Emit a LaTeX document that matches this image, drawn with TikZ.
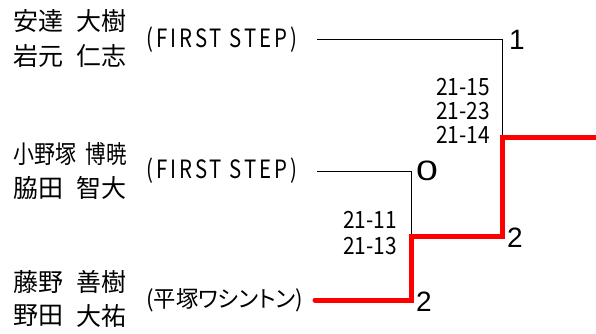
\documentclass[tikz,border=0pt]{standalone}
\usepackage{fontspec}
\newfontfamily\jp{Noto Sans CJK JP}
\newfontfamily\jpls[LetterSpace=15]{Noto Sans CJK JP}
\newfontfamily\jpp[RawFeature={+palt}]{Noto Sans CJK JP}
\newfontfamily\arial{Liberation Sans}
\begin{document}
\begin{tikzpicture}[x=1pt,y=-1pt,
  nm/.style={inner sep=0pt, font=\jp\fontsize{25}{25}\selectfont},
  club/.style={inner sep=0pt, anchor=west, font=\jpls\fontsize{24}{24}\selectfont},
  clubjp/.style={inner sep=0pt, anchor=west, font=\jpp\fontsize{23}{23}\selectfont},
  score/.style={inner sep=0pt, anchor=east, align=right},
  big/.style={inner sep=0pt, anchor=west, font=\arial\fontsize{28}{28}\selectfont},
  thinline/.style={draw=black, line width=1pt},
  win/.style={draw=red, line width=5pt, line join=miter, line cap=round}]
\useasboundingbox (0,0) rectangle (596,334);
% names
\node[nm,anchor=west] (n1a) at (13,21) {安達};
\node[nm,anchor=east] (n1b) at (127,21) {大樹};
\node[nm,anchor=west] (n2a) at (13,56) {岩元};
\node[nm,anchor=east] (n2b) at (127,56) {仁志};
\node[nm,anchor=west] (n3a) at (13,154) {\scalebox{0.84}[1]{小野塚}};
\node[nm,anchor=east] (n3b) at (127,154) {\scalebox{0.82}[1]{博暁}};
\node[nm,anchor=west] (n4a) at (13,188) {脇田};
\node[nm,anchor=east] (n4b) at (127,188) {智大};
\node[nm,anchor=west] (n5a) at (13,282) {藤野};
\node[nm,anchor=east] (n5b) at (127,282) {善樹};
\node[nm,anchor=west] (n6a) at (13,316) {野田};
\node[nm,anchor=east] (n6b) at (127,316) {大祐};
% clubs
\node[club] (c1) at (146,40) {\scalebox{0.85}[1.05]{(FIRST STEP)}};
\node[club] (c2) at (146,171) {\scalebox{0.85}[1.05]{(FIRST STEP)}};
\node[clubjp] (c3) at (146,300) {\scalebox{0.97}[1]{(平塚ワシントン)}};
% connector points
\coordinate (s1) at (317,40);
\coordinate (s2) at (317,171);
\coordinate (s3) at (315,300);
\coordinate (k1) at (502,40);
\coordinate (k2) at (411,171);
\coordinate (m2) at (411,236);
\coordinate (m3) at (411,300);
\coordinate (j1) at (502,137);
\coordinate (j2) at (502,236);
\coordinate (fin) at (596,137);
% lines
\draw[thinline] (s1) -- (k1) -- (j1);
\draw[thinline] (s2) -- (k2) -- (m2);
\draw[win] (s3) -- (m3) -- (m2) -- (j2) -- (j1) -- (fin);
% scores
\node[score, font=\jp\fontsize{22}{22.5}\selectfont] (sc1) at (490,115) {\scalebox{0.95}[1.08]{\begin{tabular}{@{}r@{}}21-15\\[-0.5pt]21-23\\[-0.5pt]21-14\end{tabular}}};
\node[score, font=\jp\fontsize{22}{24}\selectfont] (sc2) at (397,236) {\scalebox{0.95}[1.08]{\begin{tabular}{@{}r@{}}21-11\\21-13\end{tabular}}};
% results
\node[big] (r1) at (509,40) {1};
\node[big] (r2) at (416,171) {\scalebox{1.4}[1]{0}};
\node[big] (r3) at (507,237.5) {2};
\node[big] (r4) at (416,302) {2};
\end{tikzpicture}
\end{document}
